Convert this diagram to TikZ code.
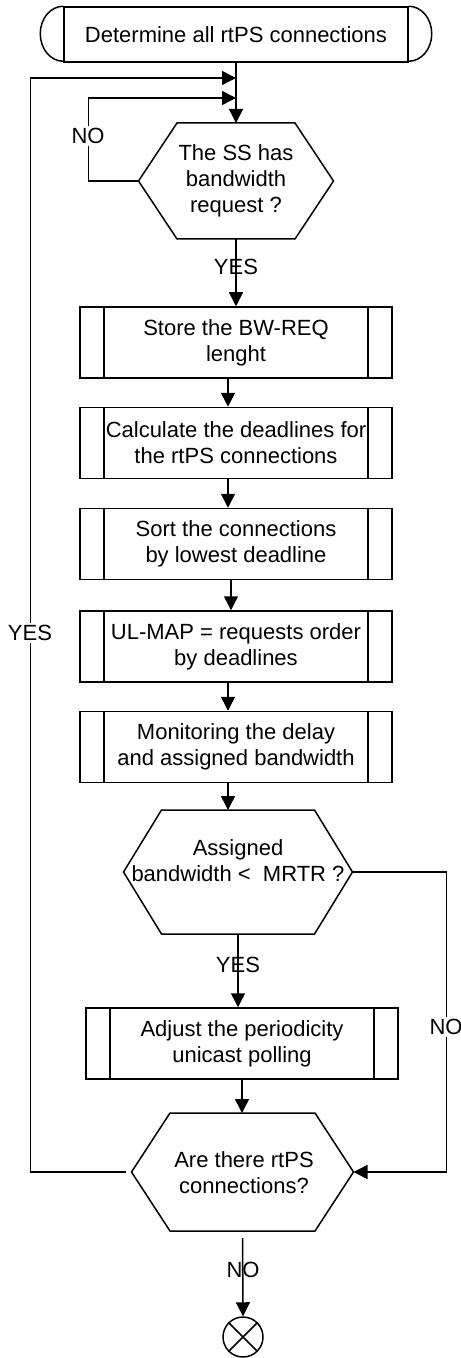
\documentclass[tikz,border=0pt]{standalone}
\usepackage{fontspec}
\setmainfont{Liberation Sans}
\usetikzlibrary{arrows.meta,calc}
\newcommand\myhex[6]{%
  \coordinate (#1-n) at (#2,{#3-#6});
  \coordinate (#1-s) at (#2,{#3+#6});
  \coordinate (#1-w) at ({#2-#5},#3);
  \coordinate (#1-e) at ({#2+#5},#3);
  \draw ({#2-#4},{#3-#6}) -- ({#2+#4},{#3-#6}) -- (#1-e) -- ({#2+#4},{#3+#6}) -- ({#2-#4},{#3+#6}) -- (#1-w) -- cycle;
}
\begin{document}
\begin{tikzpicture}[x=0.5pt,y=-0.5pt,
  line width=0.75pt,
  every node/.style={font=\fontsize{11}{13}\selectfont},
  arr/.style={-{Triangle[length=7pt,width=7pt]}},
  proc/.style={draw, minimum width=156pt, minimum height=35.5pt, align=center, inner sep=0pt,
    path picture={
      \draw[line width=0.75pt] ([xshift=12pt]path picture bounding box.north west) -- ([xshift=12pt]path picture bounding box.south west);
      \draw[line width=0.75pt] ([xshift=-12pt]path picture bounding box.north east) -- ([xshift=-12pt]path picture bounding box.south east);}},
  lbl/.style={fill=white, inner sep=1pt},
  lblc/.style={inner sep=0pt},
]
\useasboundingbox (0,0) rectangle (460,1358);

% start terminal
\node[draw, minimum width=172pt, minimum height=27.5pt, inner sep=0pt] (start) at (236,34.5) {Determine all rtPS connections};
\draw (start.north west) arc[start angle=90, end angle=270, x radius=11.5pt, y radius=13.75pt];
\draw (start.north east) arc[start angle=90, end angle=-90, x radius=11.5pt, y radius=13.75pt];

% decisions
\myhex{h1}{236}{181}{59}{97.5}{58}
\myhex{h2}{238}{872}{76.5}{114.5}{62}
\myhex{h3}{242.5}{1172}{72.5}{111}{59}
\node[align=center] (t1) at (236,181) {The SS has\\bandwidth\\request ?};
\node[align=center] (t2) at (238,861) {Assigned\\bandwidth <\ \ MRTR ?};
\node[align=center] (t3) at (244,1172.5) {Are there rtPS\\connections?};

% processes
\node[proc] (b1) at (236,342.5) {Store the BW-REQ\\lenght};
\node[proc] (b2) at (236,443) {Calculate the deadlines for\\the rtPS connections};
\node[proc] (b3) at (236,544) {Sort the connections\\by lowest deadline};
\node[proc] (b4) at (236,646.5) {UL-MAP = requests order\\by deadlines};
\node[proc] (b5) at (236,747) {Monitoring the delay\\and assigned bandwidth};
\node[proc] (b6) at (242,1043.5) {Adjust the periodicity\\unicast polling};

% end
\node[draw, circle, minimum size=20pt, inner sep=0pt] (endc) at (243,1337) {};
\draw (endc.north west) -- (endc.south east) (endc.north east) -- (endc.south west);

% junctions on main line
\coordinate (j1) at (236,78);
\coordinate (j2) at (236,98);

% connectors
\draw[arr] (start.south) -- (h1-n);
\draw[arr] (h1-s) -- (b1.north);
\draw[arr] ([xshift=-4pt]b1.south) -- ([xshift=-4pt]b2.north);
\draw[arr] ([xshift=-4pt]b2.south) -- ([xshift=-4pt]b3.north);
\draw[arr] ([xshift=-2.5pt]b3.south) -- ([xshift=-2.5pt]b4.north);
\draw[arr] ([xshift=-4pt]b4.south) -- ([xshift=-4pt]b5.north);
\draw[arr] ([xshift=-4pt]b5.south) -- ([xshift=-5pt]h2-n);
\draw[arr] (h2-s) -- (h2-s |- b6.north);
\draw[arr] (b6.south) -- (b6.south |- h3-n);
\draw[arr, shorten <=3.5pt] (h3-s) -- (endc.north);

\draw[arr] (h1-w) -- ++(-50,0) |- (j2);
\draw[arr, shorten <=3pt] (h3-w) -- ++(-101,0) |- (j1);
\draw[arr] (h2-e) -- ++(94,0) |- (h3-e);

% labels
\node[lblc] (ly1) at (236,267) {YES};
\node[lbl] (ln1) at (88,136) {NO};
\node[lbl] (ly2) at (30,633) {YES};
\node[lblc] (ly3) at (238,965) {YES};
\node[lbl] (ln2) at (446,1027) {NO};
\node[lblc] (ln3) at (243,1270) {NO};
\end{tikzpicture}
\end{document}
